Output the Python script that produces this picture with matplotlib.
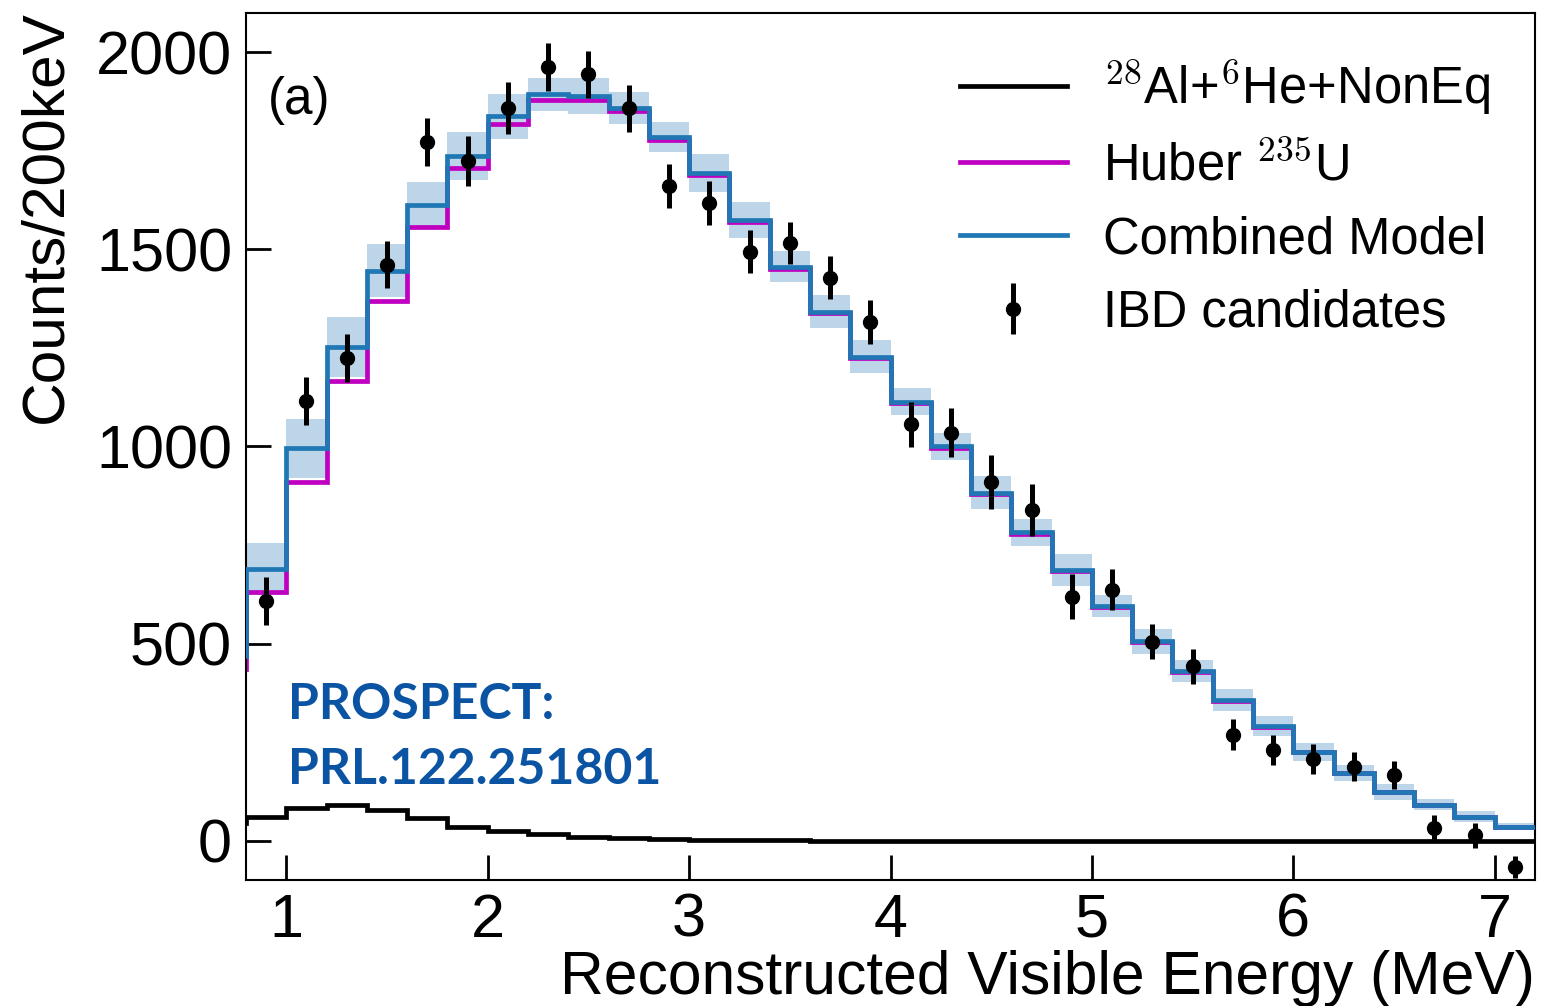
import numpy as np
import matplotlib
matplotlib.use('Agg')
import matplotlib.pyplot as plt
from matplotlib.lines import Line2D

plt.rcParams['font.family'] = ['Liberation Sans', 'DejaVu Sans']
plt.rcParams['mathtext.fontset'] = 'cm'

# bin edges (MeV), 200 keV bins
edges = np.round(np.arange(0.6, 7.3, 0.2), 1)
centros = np.round(np.arange(0.9, 7.2, 0.2), 1)

# modelo combinado, Huber 235U, incertidumbre del modelo, fondo
combinado = [468, 689, 995, 1253, 1446, 1613, 1737, 1838, 1894, 1889, 1858,
             1785, 1694, 1575, 1456, 1342, 1228, 1114, 1000, 883, 782, 686,
             595, 506, 430, 357, 291, 225, 172, 124, 91, 61, 35]
huber = [435, 630, 911, 1165, 1370, 1557, 1706, 1818, 1878, 1878, 1851,
         1777, 1688, 1570, 1451, 1338, 1224, 1110, 997, 880, 779, 683,
         593, 504, 428, 355, 289, 224, 171, 123, 90, 60, 34]
banda = [60, 66, 74, 76, 67, 57, 60, 57, 42, 45, 41, 39, 49, 46, 40, 41,
         41, 34, 35, 41, 35, 41, 27, 32, 28, 27, 25, 22, 20, 20, 14, 13, 9]
fondo = [45, 60, 83, 91, 77, 57, 35, 25, 18, 10, 6, 3, 2, 1, 1, 0, 0, 0,
         0, 0, 0, 0, 0, 0, 0, 0, 0, 0, 0, 0, 0, 0, 0]

# candidatos IBD
cuentas = [608, 1116, 1225, 1461, 1772, 1724, 1858, 1962, 1944, 1858, 1661,
           1618, 1494, 1516, 1428, 1316, 1056, 1035, 910, 839, 619, 636,
           505, 442, 269, 229, 207, 188, 166, 32, 14, -67]
errores = [62, 61, 61, 60, 61, 63, 66, 61, 60, 59, 56, 55, 54, 54, 54, 55,
           57, 63, 68, 65, 57, 52, 45, 44, 40, 38, 37, 37, 35, 34, 32, 28]

azul = '#1f77b4'
magenta = '#c000c0'
lw = 3.4

fig = plt.figure(figsize=(15.42, 10.06), dpi=100)
ax = fig.add_axes([0.1595, 0.1252, 0.836, 0.862])

comb = np.array(combinado)
bnd = np.array(banda)
ax.stairs(comb + bnd, edges, baseline=comb - bnd, fill=True,
          color='#bcd5e8', lw=0, zorder=1)
ax.stairs(huber, edges, baseline=None, color=magenta, lw=lw, zorder=2)
ax.stairs(combinado, edges, baseline=None, color=azul, lw=lw, zorder=3)
ax.stairs(fondo, edges, baseline=None, color='black', lw=lw, zorder=4)
ax.errorbar(centros, cuentas, yerr=errores, fmt='o', color='black', ms=10,
            elinewidth=3.6, capsize=0, zorder=5)

ax.set_xlim(0.8, 7.2)
ax.set_ylim(-100, 2100)
ax.set_xticks([1, 2, 3, 4, 5, 6, 7])
ax.set_yticks([0, 500, 1000, 1500, 2000])
ax.tick_params(axis='both', direction='in', length=18, width=2,
               labelsize=44)
ax.tick_params(axis='x', pad=9)
ax.tick_params(axis='y', pad=10)
for s in ax.spines.values():
    s.set_linewidth(1.5)

ax.set_xlabel('Reconstructed Visible Energy (MeV)', fontsize=43.6, loc='right',
              labelpad=0)
ax.set_ylabel('Counts/200keV', fontsize=43.5, loc='top')
ax.yaxis.set_label_coords(-0.134, 1.003)

ax.text(0.91, 1878, '(a)', fontsize=37, va='center', ha='left')
ax.text(1.01, 309, 'PROSPECT:', fontsize=36, color='#0b54a4',
        fontweight='bold', family='Lato', va='baseline', ha='left')
ax.text(1.01, 144, 'PRL.122.251801', fontsize=36, color='#0b54a4',
        fontweight='bold', family='Lato', va='baseline', ha='left')

manejadores = [
    Line2D([], [], color='black', lw=lw),
    Line2D([], [], color=magenta, lw=lw),
    Line2D([], [], color=azul, lw=lw),
    ax.errorbar([], [], yerr=[], fmt='o', color='black', ms=10,
                elinewidth=3.6, capsize=0),
]
etiquetas = [r'$^{28}$Al+$^{6}$He+NonEq', r'Huber $^{235}$U',
             'Combined Model', 'IBD candidates']
ax.legend(manejadores, etiquetas, loc='upper right', fontsize=36.5,
          frameon=False, handlelength=2.1, handletextpad=0.72,
          labelspacing=0.48, borderaxespad=0.48)

fig.savefig('out.png', dpi=100)
